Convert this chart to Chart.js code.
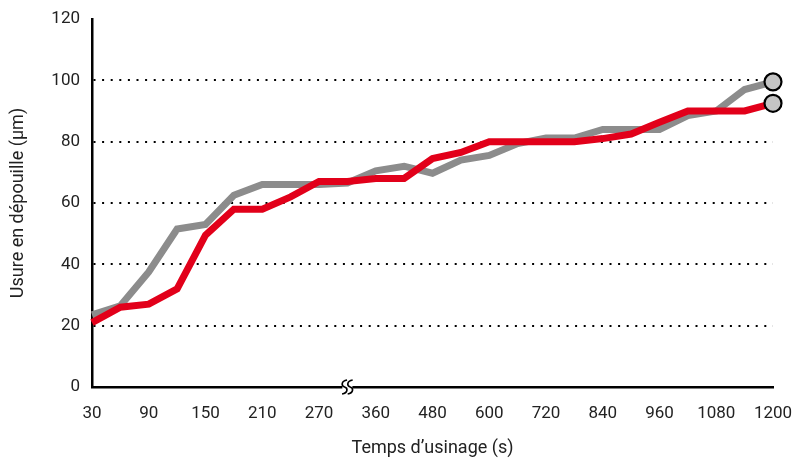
<!DOCTYPE html>
<html>
<head>
<meta charset="utf-8">
<script src="https://cdn.jsdelivr.net/npm/chart.js@4.4.0/dist/chart.umd.min.js"></script>
<style>
  html, body { margin: 0; padding: 0; background: #fff; }
  #wrap { width: 792px; height: 459px; }
</style>
</head>
<body>
<div id="wrap"><canvas id="chart"></canvas></div>
<script>
// time steps (s) - index 9 is the axis break, its label is hidden
var temps = ['30', '60', '90', '120', '150', '180', '210', '240', '270', '', '360', '420', '480', '540',
    '600', '660', '720', '780', '840', '900', '960', '1020', '1080', '1140', '1200'];
var usureGris = [23.5, 26.5, 37.5, 51.5, 53, 62.5, 66, 66, 66, 66.5, 70.5, 72, 69.7, 74,
    75.5, 79.4, 81.2, 81.2, 84, 84, 84, 88.5, 90, 97, 99.5];
var usureRouge = [21, 26, 27, 32, 49.5, 58, 58, 62, 67, 67, 68, 68, 74.5, 76.5,
    80, 80, 80, 80, 81, 82.5, 86.3, 90, 90, 90, 92.5];
var yTicks = [0, 20, 40, 60, 80, 100, 120];

var font = "Roboto";

// last point gets a marker
function lastOnly(val) {
    return function (ctx) {
        return ctx.dataIndex === temps.length - 1 ? val : 0;
    };
}

// little "S S" break symbol on the x axis
var axisBreak = {
    id: 'axisBreak',
    afterDraw: function (chart) {
        var ctx = chart.ctx;
        var x = chart.scales.x.getPixelForValue(9);
        var y = chart.scales.y.getPixelForValue(0);
        ctx.save();
        ctx.fillStyle = '#fff';
        ctx.fillRect(x - 5, y - 3, 10, 6);
        ctx.strokeStyle = '#000';
        ctx.lineWidth = 1.6;
        [-2.8, 2.8].forEach(function (dx) {
            var cx = x + dx;
            ctx.beginPath();
            ctx.moveTo(cx + 2.5, y - 7);
            ctx.bezierCurveTo(cx - 3.5, y - 6, cx - 3.5, y - 1, cx, y);
            ctx.bezierCurveTo(cx + 3.5, y + 1, cx + 3.5, y + 6, cx - 2.5, y + 7);
            ctx.stroke();
        });
        ctx.restore();
    }
};

new Chart(document.getElementById('chart'), {
    type: 'line',
    data: {
        labels: temps,
        datasets: [{
            label: 'Rouge',
            data: usureRouge,
            borderColor: '#e2001a',
            borderWidth: 7,
            fill: false,
            tension: 0,
            borderJoinStyle: 'miter',
            pointRadius: lastOnly(8.5),
            pointBackgroundColor: '#c4c4c4',
            pointBorderColor: '#000',
            pointBorderWidth: 2.2,
        }, {
            label: 'Gris',
            data: usureGris,
            borderColor: '#8c8c8c',
            borderWidth: 7,
            fill: false,
            tension: 0,
            borderJoinStyle: 'miter',
            pointRadius: lastOnly(8.5),
            pointBackgroundColor: '#c4c4c4',
            pointBorderColor: '#000',
            pointBorderWidth: 2.2,
        }]
    },
    options: {
        responsive: true,
        maintainAspectRatio: false,
        animation: false,
        layout: { padding: { top: 19, right: 0, left: 0, bottom: 0 } },
        plugins: {
            legend: { display: false },
            tooltip: { enabled: false },
        },
        scales: {
            x: {
                type: 'category',
                offset: false,
                grid: { display: false },
                border: { color: '#000', width: 2.5 },
                ticks: {
                    autoSkip: false,
                    maxRotation: 0,
                    padding: 9,
                    color: '#222',
                    font: { family: font, size: 17 },
                    callback: function (v, i) {
                        return i % 2 === 0 ? temps[i] : '';
                    }
                },
                title: {
                    display: true,
                    text: 'Temps d\u2019usinage (s)',
                    color: '#222',
                    font: { family: font, size: 18 },
                    padding: { top: 9, bottom: 0 }
                },
                afterFit: function (scale) {
                    scale.height = 72;
                    scale.paddingRight = 19;
                }
            },
            y: {
                min: 0,
                max: 120,
                afterBuildTicks: function (scale) {
                    scale.ticks = yTicks.map(function (v) { return { value: v }; });
                },
                grid: {
                    drawTicks: false,
                    lineWidth: 2,
                    color: function (ctx) {
                        var v = ctx.tick && ctx.tick.value;
                        return (v === 0 || v === 120) ? 'rgba(0,0,0,0)' : '#000';
                    }
                },
                border: { color: '#000', width: 2.5, dash: [2, 6.6] },
                ticks: {
                    padding: 12,
                    color: '#222',
                    font: { family: font, size: 17 }
                },
                title: {
                    display: true,
                    text: 'Usure en d\u00e9pouille (\u00b5m)',
                    color: '#222',
                    font: { family: font, size: 18 },
                    padding: { top: 8, bottom: 8 }
                },
                afterFit: function (scale) {
                    scale.width = 92;
                    scale.paddingTop = 0;
                }
            }
        }
    },
    plugins: [axisBreak]
});
</script>
</body>
</html>
